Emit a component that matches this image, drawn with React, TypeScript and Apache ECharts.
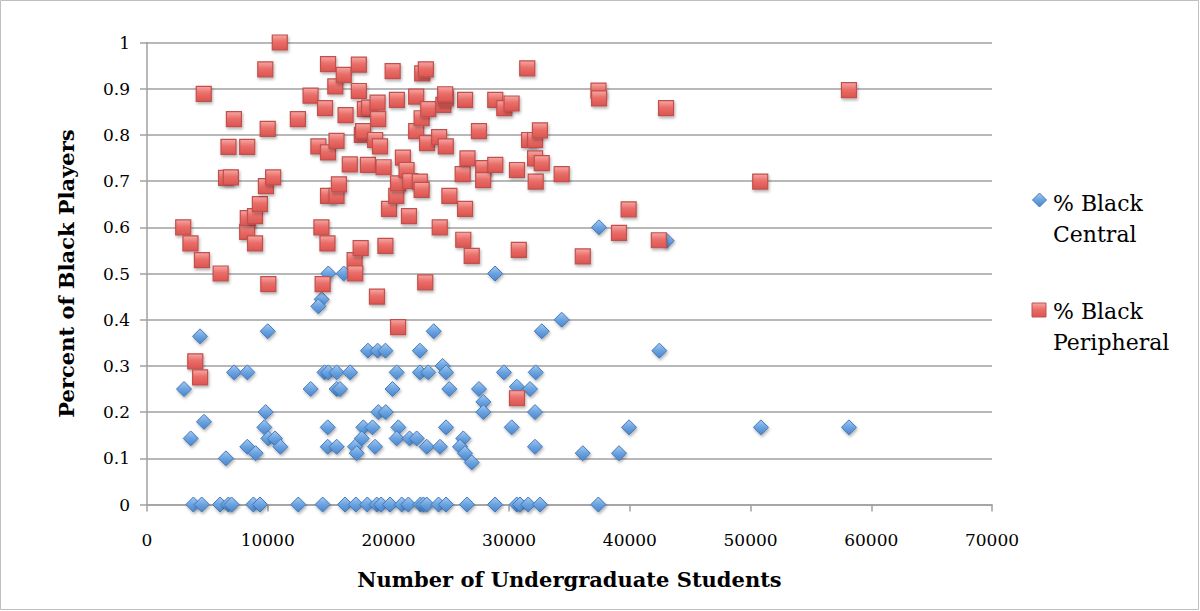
import React, { useEffect, useRef } from "react";
import * as echarts from "echarts";

// Undergraduate enrolment vs. share of Black players in central positions
const centralStudents = [
  3840, 4530, 6050, 6740, 7010, 8810, 9360, 12530, 14550, 16400, 17300, 18250, 19030, 19400, 20130,
  21100, 21650, 22650, 22900, 23170, 24150, 24770, 26500, 28830, 30630, 30900, 31580, 32550, 37390,
  15020, 16300, 28830, 37440, 43050,
  14470, 14190,
  34350, 4390, 10000, 23750, 32700,
  18300, 19100, 19750, 22600, 42440,
  24490,
  7210, 8310, 14700, 15020, 15710, 16820, 20680, 22610, 23300, 24770, 29570, 32200,
  3065, 13560, 15710, 15990, 20340, 25040, 27500, 30630, 31730,
  27860,
  9830, 19160, 19780, 27860, 32140,
  4720,
  9720, 14970, 17920, 18680, 20820, 24770, 30210, 39930, 50860, 58150,
  3620, 10050, 10600, 17790, 20680, 21750, 22340, 26200,
  11050, 8310, 14970, 15710, 17230, 18890, 23170, 24270, 25930, 32140,
  9000, 17370, 26340, 36100, 39100,
  6540,
  26900,
];
const centralShare = [
  0, 0, 0, 0, 0, 0, 0, 0, 0, 0, 0, 0, 0, 0, 0,
  0, 0, 0, 0, 0, 0, 0, 0, 0, 0, 0, 0, 0, 0,
  0.5, 0.5, 0.5, 0.6, 0.571,
  0.444, 0.429,
  0.4, 0.364, 0.375, 0.375, 0.375,
  0.333, 0.333, 0.333, 0.333, 0.333,
  0.3,
  0.286, 0.286, 0.286, 0.286, 0.286, 0.286, 0.286, 0.286, 0.286, 0.286, 0.286, 0.286,
  0.25, 0.25, 0.25, 0.25, 0.25, 0.25, 0.25, 0.255, 0.25,
  0.222,
  0.2, 0.2, 0.2, 0.2, 0.2,
  0.179,
  0.167, 0.167, 0.167, 0.167, 0.167, 0.167, 0.167, 0.167, 0.167, 0.167,
  0.143, 0.143, 0.143, 0.143, 0.143, 0.143, 0.143, 0.143,
  0.125, 0.125, 0.125, 0.125, 0.125, 0.125, 0.125, 0.125, 0.125, 0.125,
  0.111, 0.111, 0.111, 0.111, 0.111,
  0.1,
  0.091,
];

// Undergraduate enrolment vs. share of Black players in peripheral positions
const peripheralStudents = [
  3000, 3600, 4000, 4400, 4550, 4700, 6100, 6550, 6750, 6950,
  7200, 8300, 8300, 8350, 8950, 8950, 9350, 9800, 9850, 10000,
  10050, 10450, 11000, 12500, 13550, 14200, 14450, 14550, 14750, 14950,
  15000, 15000, 15000, 15600, 15700, 15700, 15900, 16300, 16450, 16800,
  17200, 17250, 17550, 17550, 17700, 17800, 17900, 18050, 18400, 18300,
  18900, 19050, 19100, 19150, 19300, 19600, 19750, 20050, 20350, 20650,
  20700, 20800, 20800, 21200, 21500, 21700, 21800, 22300, 22300, 22600,
  22750, 22750, 22800, 23050, 23100, 23200, 23300, 24200, 24250, 24550,
  24750, 24700, 24750, 25050, 26150, 26200, 26350, 26350, 26550, 26900,
  27500, 27850, 27850, 28850, 28850, 29600, 30200, 30650, 30650, 30800,
  31500, 31650, 32150, 32150, 32200, 32550, 32700, 34350, 36100, 37400,
  37450, 39100, 39900, 42400, 43000, 50800, 58150,
];
const peripheralShare = [
  0.6, 0.565, 0.31, 0.275, 0.529, 0.889, 0.5, 0.707, 0.774, 0.708,
  0.834, 0.774, 0.59, 0.62, 0.624, 0.565, 0.65, 0.942, 0.689, 0.813,
  0.477, 0.708, 1.0, 0.834, 0.885, 0.775, 0.6, 0.477, 0.858, 0.565,
  0.953, 0.762, 0.668, 0.905, 0.787, 0.668, 0.693, 0.93, 0.843, 0.736,
  0.529, 0.5, 0.952, 0.895, 0.555, 0.8, 0.808, 0.856, 0.859, 0.735,
  0.789, 0.45, 0.87, 0.834, 0.775, 0.73, 0.56, 0.64, 0.938, 0.668,
  0.876, 0.695, 0.384, 0.751, 0.724, 0.624, 0.7, 0.883, 0.808, 0.699,
  0.836, 0.681, 0.933, 0.481, 0.942, 0.782, 0.856, 0.795, 0.6, 0.865,
  0.879, 0.888, 0.775, 0.668, 0.715, 0.573, 0.876, 0.64, 0.749, 0.538,
  0.808, 0.728, 0.702, 0.876, 0.735, 0.858, 0.868, 0.724, 0.23, 0.551,
  0.944, 0.789, 0.789, 0.749, 0.699, 0.81, 0.739, 0.715, 0.537, 0.896,
  0.879, 0.588, 0.639, 0.572, 0.858, 0.699, 0.897,
];

const xTicks = { min: 0, max: 70000, step: 10000 };
const yTicks = { min: 0, max: 1, step: 0.1 };

const seriesNames = ["% Black Central", "% Black Peripheral"];

const FONT = "'DejaVu Serif', 'Liberation Serif', serif";

const pairs = (xs: number[], ys: number[]) => xs.map((x, i) => [x, ys[i]]);

const blueFill = new echarts.graphic.LinearGradient(0, 0, 0, 1, [
  { offset: 0, color: "#A6CAF2" },
  { offset: 0.5, color: "#6AA3E0" },
  { offset: 1, color: "#4A85CD" },
]);
const redFill = new echarts.graphic.LinearGradient(0, 0, 0, 1, [
  { offset: 0, color: "#F6A8A4" },
  { offset: 0.45, color: "#EA6E69" },
  { offset: 1, color: "#DC5450" },
]);

export default function App() {
  const ref = useRef<HTMLDivElement>(null);

  useEffect(() => {
    if (!ref.current) return;
    const chart = echarts.init(ref.current, null, { renderer: "svg" });
    const gridColor = "#A0A0A0";

    chart.setOption({
      animation: false,
      backgroundColor: "#ffffff",
      grid: { left: 147, right: 208, top: 42.5, bottom: 106.5, containLabel: false },
      xAxis: {
        type: "value",
        min: xTicks.min,
        max: xTicks.max,
        interval: xTicks.step,
        name: "Number of Undergraduate Students",
        nameLocation: "middle",
        nameGap: 64,
        nameTextStyle: { fontFamily: FONT, fontWeight: "bold", fontSize: 21, color: "#000" },
        axisLine: { show: true, onZero: false, lineStyle: { color: gridColor, width: 1.5 } },
        axisTick: { show: true, inside: false, length: 7, lineStyle: { color: gridColor, width: 1.5 } },
        axisLabel: {
          fontFamily: FONT,
          fontSize: 17,
          color: "#000",
          margin: 27,
          formatter: (v: number) => String(v),
        },
        splitLine: { show: false },
      },
      yAxis: {
        type: "value",
        min: yTicks.min,
        max: yTicks.max,
        interval: yTicks.step,
        name: "Percent of Black Players",
        nameLocation: "middle",
        nameRotate: 90,
        nameGap: 70,
        nameTextStyle: { fontFamily: FONT, fontWeight: "bold", fontSize: 21, color: "#000" },
        axisLine: { show: true, lineStyle: { color: gridColor, width: 1.5 } },
        axisTick: { show: true, inside: false, length: 7, lineStyle: { color: gridColor, width: 1.5 } },
        axisLabel: {
          fontFamily: FONT,
          fontSize: 17,
          color: "#000",
          margin: 17,
          formatter: (v: number) => String(Math.round(v * 10) / 10),
        },
        splitLine: { show: true, lineStyle: { color: gridColor, width: 1.5 } },
      },
      series: [
        {
          name: seriesNames[0],
          type: "scatter",
          data: pairs(centralStudents, centralShare),
          symbol: "diamond",
          symbolSize: 15,
          z: 2,
          itemStyle: {
            color: blueFill,
            borderColor: "#4379BA",
            borderWidth: 1,
            shadowBlur: 3,
            shadowOffsetX: 1,
            shadowOffsetY: 2,
            shadowColor: "rgba(0,0,0,0.3)",
            opacity: 1,
          },
        },
        {
          name: seriesNames[1],
          type: "scatter",
          data: pairs(peripheralStudents, peripheralShare),
          symbol: "rect",
          symbolSize: 15,
          z: 3,
          itemStyle: {
            color: redFill,
            borderColor: "#C0504D",
            borderWidth: 1.2,
            shadowBlur: 3,
            shadowOffsetX: 1,
            shadowOffsetY: 2,
            shadowColor: "rgba(0,0,0,0.3)",
            opacity: 1,
          },
        },
      ],
      graphic: [
        {
          type: "rect",
          shape: { x: 0.5, y: 0.5, width: 1198, height: 609 },
          style: { fill: "none", stroke: "#BFBFBF", lineWidth: 1 },
          silent: true,
        },
        {
          type: "polygon",
          shape: { points: [[1039.5, 193], [1046.5, 200], [1039.5, 207], [1032.5, 200]] },
          style: { fill: blueFill, stroke: "#4379BA", lineWidth: 1 },
        },
        {
          type: "text",
          x: 1053,
          y: 203,
          style: { text: "% Black", font: `22px ${FONT}`, fill: "#000", verticalAlign: "middle" },
        },
        {
          type: "text",
          x: 1053,
          y: 234,
          style: { text: "Central", font: `22px ${FONT}`, fill: "#000", verticalAlign: "middle" },
        },
        {
          type: "rect",
          shape: { x: 1032, y: 303, width: 14, height: 14 },
          style: { fill: redFill, stroke: "#C0504D", lineWidth: 1 },
        },
        {
          type: "text",
          x: 1053,
          y: 311.5,
          style: { text: "% Black", font: `22px ${FONT}`, fill: "#000", verticalAlign: "middle" },
        },
        {
          type: "text",
          x: 1053,
          y: 342.5,
          style: { text: "Peripheral", font: `22px ${FONT}`, fill: "#000", verticalAlign: "middle" },
        },
      ],
    });

    return () => chart.dispose();
  }, []);

  return (
    <div
      ref={ref}
      style={{ position: "fixed", left: 0, top: 0, width: 1200, height: 611 }}
    />
  );
}
